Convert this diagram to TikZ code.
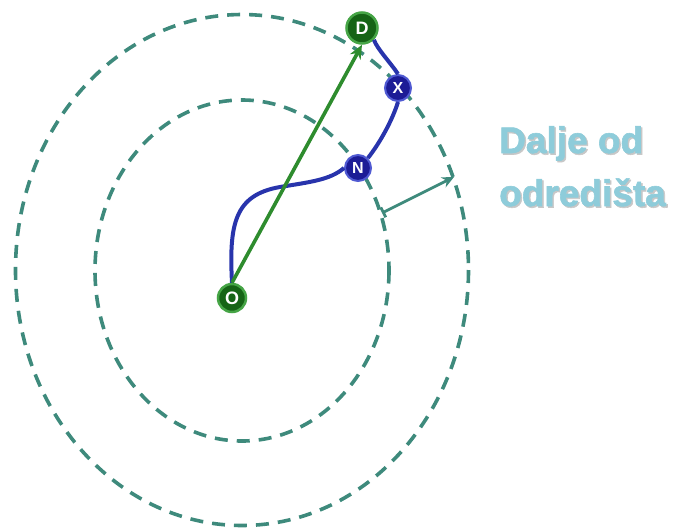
\documentclass[tikz,border=0pt]{standalone}
\usepackage{fontspec}
\setmainfont{Liberation Sans}
\newfontfamily\heavyfont[FakeBold=1.6]{Liberation Sans Bold}
\usetikzlibrary{arrows.meta}
\definecolor{ring}{RGB}{62,138,124}
\definecolor{grn}{RGB}{46,140,46}
\definecolor{dgrn}{RGB}{22,100,22}
\definecolor{lgrn}{RGB}{70,165,70}
\definecolor{blu}{RGB}{40,52,172}
\definecolor{dblu}{RGB}{28,28,150}
\definecolor{lblu}{RGB}{80,90,210}
\definecolor{txtblue}{RGB}{142,204,218}
\tikzset{
  ringline/.style={draw=ring, line width=3.6pt, dash pattern=on 13pt off 9pt},
  gnode/.style={circle, fill=dgrn, draw=lgrn, line width=2.5pt, minimum size=31pt, inner sep=0pt, text=white, font=\bfseries\fontsize{18}{18}\selectfont},
  bnode/.style={circle, fill=dblu, draw=lblu, line width=2pt, minimum size=26pt, inner sep=0pt, text=white, font=\bfseries\fontsize{16}{16}\selectfont},
  route/.style={draw=blu, line width=4pt},
  label/.style={text=txtblue, font=\heavyfont\fontsize{37}{53}\selectfont, align=left, anchor=north west, inner sep=0pt}
}
\begin{document}
\begin{tikzpicture}[x=1pt,y=-1pt]
\useasboundingbox (0,0) rectangle (678,528);
\draw[ringline] (242,270) ellipse [x radius=226.5, y radius=255.5];
\draw[ringline] (242,270.5) ellipse [x radius=147, y radius=170.5];
\node[gnode] (D) at (362,28) {D};
\node[gnode, minimum size=28pt] (O) at (232,298) {O};
\node[bnode] (X) at (398,88) {X};
\node[bnode] (N) at (358,168) {N};
\draw[route] (O.north) .. controls (229,225) and (234,195) .. (280,187) .. controls (310,182) and (330,180) .. (N.west);
\draw[route] (N.north east) .. controls (382,140) and (393,118) .. (X.south);
\draw[route] (X.north) .. controls (390,62) and (378,50) .. (D.south east);
\draw[draw=grn, line width=3.6pt, -{Stealth[length=14pt,width=12pt]}] (O.north) -- (D.south);
\coordinate (a) at (382,213);
\coordinate (b) at (454,177);
\draw[draw=ring, line width=2.8pt, {Bar[width=11pt]}-{Stealth[length=12pt,width=11pt]}] (a) -- (b);
\node[label, text=black!22, xshift=1.5pt, yshift=-1.5pt] at (499,126) {Dalje od\\odredišta};
\node[label] (T) at (499,126) {Dalje od\\odredišta};
\end{tikzpicture}
\end{document}
